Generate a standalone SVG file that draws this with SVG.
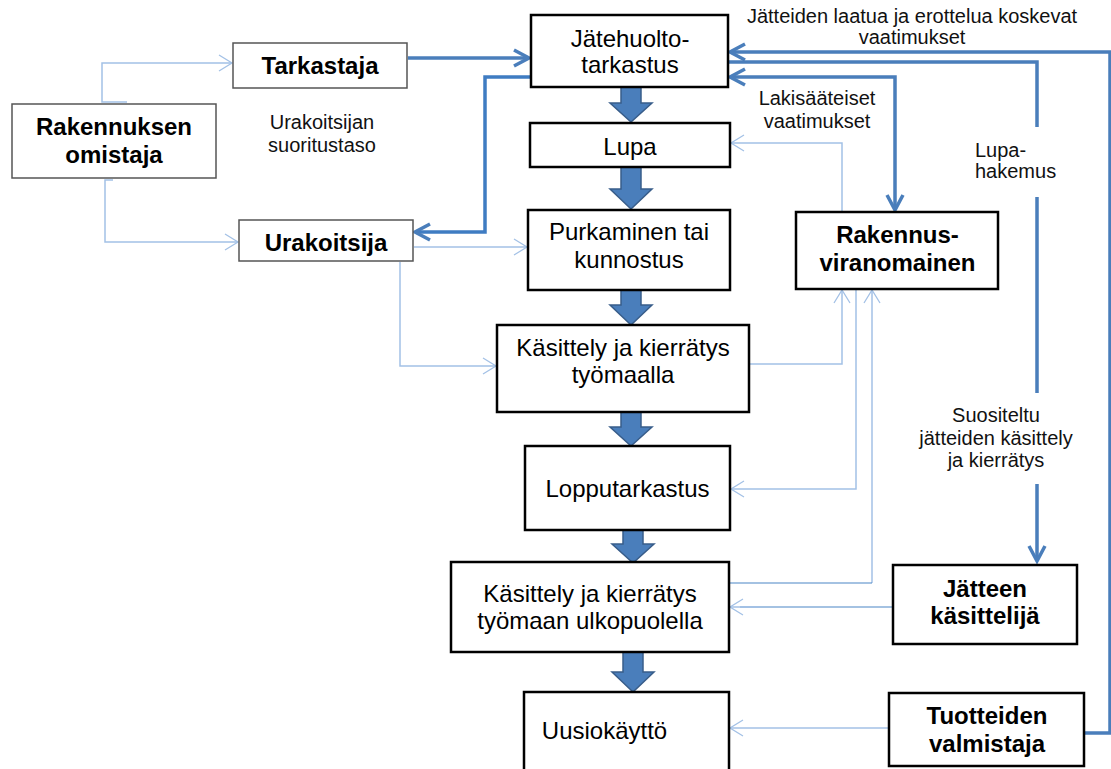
<svg xmlns="http://www.w3.org/2000/svg" width="1111" height="769" viewBox="0 0 1111 769">
<style>
.box{fill:#fff;stroke:#000;stroke-width:2.5}
.gbox{fill:#fff;stroke:#555;stroke-width:1.5}
.t{font-family:"Liberation Sans",Arial,sans-serif;font-size:24px;fill:#000;text-anchor:middle}
.b{font-weight:bold}
.l{font-family:"Liberation Sans",Arial,sans-serif;font-size:20px;fill:#111;text-anchor:middle}
.thick{fill:none;stroke:#4a7ebb;stroke-width:3.5}
.thin{fill:none;stroke:#a3c1e6;stroke-width:1.5}
.thind{fill:none;stroke:#4a86c5;stroke-width:1.2}
.blk{fill:#4a7ebb;stroke:#385d8a;stroke-width:1.5}
</style>
<defs>
<marker id="ah" markerUnits="userSpaceOnUse" markerWidth="24" markerHeight="24" viewBox="-20 -12 24 24" refX="0" refY="0" orient="auto-start-reverse">
<path d="M-15,-8 L0,0 L-15,8" fill="none" stroke="#4a7ebb" stroke-width="3.5"/>
</marker>
<marker id="at" markerUnits="userSpaceOnUse" markerWidth="20" markerHeight="20" viewBox="-16 -10 20 20" refX="0" refY="0" orient="auto">
<path d="M-13,-8 L0,0 L-13,8" fill="none" stroke="#a3c1e6" stroke-width="1.3"/>
</marker>
</defs>

<g id="connectors">
<!-- block arrows -->
<path class="blk" d="M621,87 H641 V103 H652 L631,122 L610,103 H621 Z"/>
<path class="blk" d="M621,167 H641 V189 H652 L631,209 L610,189 H621 Z"/>
<path class="blk" d="M621,290 H641 V305 H652 L631,325 L610,305 H621 Z"/>
<path class="blk" d="M621,412 H641 V427 H652 L631,446 L610,427 H621 Z"/>
<path class="blk" d="M623,530 H643 V544 H654 L633,563 L612,544 H623 Z"/>
<path class="blk" d="M623,652 H643 V672 H654 L633,692 L612,672 H623 Z"/>
<!-- thick lines -->
<path class="thick" d="M408,58 H529" marker-end="url(#ah)"/>
<path class="thick" d="M530,77 H485 V232 H415" marker-end="url(#ah)" style="stroke:#3f7cc2"/>
<path class="thick" d="M1084,733 H1110 V52 H730" marker-end="url(#ah)"/>
<path class="thick" d="M729,62 H1037 V127 M1037,197 V393 M1037,484 V561" marker-end="url(#ah)"/>
<path class="thick" d="M730,77 H895 V210" marker-start="url(#ah)" marker-end="url(#ah)"/>
<!-- thin lines -->
<path class="thin" d="M127,102 H102 V63 H232" marker-end="url(#at)"/>
<path class="thin" d="M113,180 H105 V242 H238" marker-end="url(#at)"/>
<path class="thin" d="M414,247 H527" marker-end="url(#at)"/>
<path class="thin" d="M400,262 V366 H496" marker-end="url(#at)"/>
<path class="thin" d="M842,212 V143 H731" marker-end="url(#at)"/>
<path class="thin" d="M750,364 H842 V290" marker-end="url(#at)"/>
<path class="thin" d="M856,290 V489 H731" marker-end="url(#at)"/>
<path class="thin" d="M872,583 V290" marker-end="url(#at)"/>
<path class="thind" d="M730,583 H872"/>
<path class="thind" d="M893,607 H740"/>
<path class="thin" d="M760,607 H730" marker-end="url(#at)"/>
<path class="thin" d="M889,728 H730" marker-end="url(#at)"/>
</g>

<g id="labels">
<text class="l" x="912" y="23">Jätteiden laatua ja erottelua koskevat</text>
<text class="l" x="912" y="44">vaatimukset</text>
<text class="l" x="817" y="105">Lakisääteiset</text>
<text class="l" x="817" y="128">vaatimukset</text>
<text class="l" x="975" y="157" style="text-anchor:start">Lupa-</text>
<text class="l" x="975" y="178" style="text-anchor:start">hakemus</text>
<text class="l" x="996" y="422">Suositeltu</text>
<text class="l" x="996" y="445">jätteiden käsittely</text>
<text class="l" x="996" y="467">ja kierrätys</text>
<text class="l" x="322" y="129">Urakoitsijan</text>
<text class="l" x="322" y="152">suoritustaso</text>
</g>

<g id="tarkastaja">
<rect class="gbox" x="233" y="43" width="174" height="45"/>
<text class="t b" x="320" y="74">Tarkastaja</text>
</g>
<g id="omistaja">
<rect class="gbox" x="12" y="104" width="204" height="74"/>
<text class="t b" x="114" y="135">Rakennuksen</text>
<text class="t b" x="114" y="163">omistaja</text>
</g>
<g id="urakoitsija">
<rect class="gbox" x="239" y="220" width="174" height="41"/>
<text class="t b" x="326" y="251">Urakoitsija</text>
</g>
<g id="jatehuolto">
<rect class="box" x="531" y="15" width="197" height="72"/>
<text class="t" x="630" y="47">Jätehuolto-</text>
<text class="t" x="630" y="73">tarkastus</text>
</g>
<g id="lupa">
<rect class="box" x="530" y="123" width="200" height="44"/>
<text class="t" x="630" y="155">Lupa</text>
</g>
<g id="purkaminen">
<rect class="box" x="528" y="210" width="202" height="80"/>
<text class="t" x="629" y="240">Purkaminen tai</text>
<text class="t" x="629" y="268">kunnostus</text>
</g>
<g id="kasittely1">
<rect class="box" x="497" y="325" width="252" height="87"/>
<text class="t" x="623" y="356">Käsittely ja kierrätys</text>
<text class="t" x="623" y="383">työmaalla</text>
</g>
<g id="lopputarkastus">
<rect class="box" x="525" y="446" width="205" height="84"/>
<text class="t" x="627.5" y="497">Lopputarkastus</text>
</g>
<g id="kasittely2">
<rect class="box" x="451" y="562" width="278" height="90"/>
<text class="t" x="590" y="602">Käsittely ja kierrätys</text>
<text class="t" x="590" y="629">työmaan ulkopuolella</text>
</g>
<g id="uusiokaytto">
<rect class="box" x="524" y="692" width="205" height="90"/>
<text class="t" x="604.5" y="739">Uusiokäyttö</text>
</g>
<g id="viranomainen">
<rect class="box" x="796" y="212" width="202" height="77"/>
<text class="t b" x="897.5" y="243">Rakennus-</text>
<text class="t b" x="897.5" y="271">viranomainen</text>
</g>
<g id="kasittelija">
<rect class="box" x="893" y="565" width="184" height="79"/>
<text class="t b" x="985" y="597">Jätteen</text>
<text class="t b" x="985" y="624">käsittelijä</text>
</g>
<g id="valmistaja">
<rect class="box" x="889" y="693" width="195" height="73"/>
<text class="t b" x="987" y="724">Tuotteiden</text>
<text class="t b" x="987" y="752">valmistaja</text>
</g>
</svg>
